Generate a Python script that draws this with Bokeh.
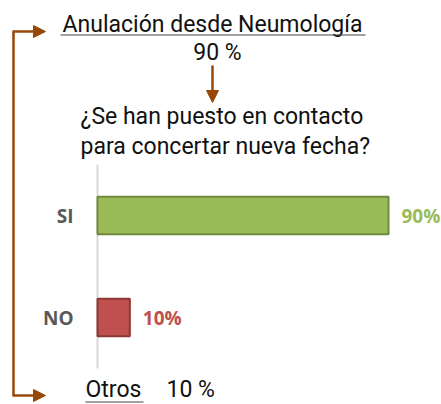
from bokeh.plotting import figure
from bokeh.models import Range1d, ColumnDataSource, Arrow, NormalHead
from bokeh.core.properties import value
from bokeh.embed import file_html
from bokeh.resources import INLINE

# ---- data ----
categories = ["SI", "NO"]
values = [90, 10]
bar_colors = ["#9BBB59", "#C0504D"]
bar_edges = ["#71893F", "#8C3836"]
title_text = "Anulación desde Neumología"
title_pct = "90 %"
question_lines = ["¿Se han puesto en contacto", "para concertar nueva fecha?"]
other_text = "Otros"
other_pct = "10 %"

W, H = 441, 404
BROWN = "#974806"

# pixel (reference picture coords) -> data coords helpers (frame == canvas)
X_PER_PX = 90 / 291.0
def xd(px):
    return (px - 97) * X_PER_PX
def yd(py):
    return (317 - py) / 102.0

p = figure(width=W, height=H, output_backend="svg", toolbar_location=None,
           x_range=Range1d(xd(0), xd(W)), y_range=Range1d(yd(H), yd(0)),
           x_axis_type=None, y_axis_type=None, min_border=0,
           outline_line_color=None, background_fill_color="white",
           border_fill_color="white")
p.grid.visible = False

ypos = [len(categories) - 1 - i for i in range(len(categories))]
src = ColumnDataSource(dict(y=ypos, v=values, cat=categories, fill=bar_colors,
                            edge=bar_edges, lab=[f"{v}%" for v in values]))

# axis line
p.segment(x0=0, y0=-0.5, x1=0, y1=len(categories) - 0.5, line_color="#D9D9D9", line_width=2)

p.hbar(y="y", left=0, right="v", height=0.37, fill_color="fill", line_color="edge",
       line_width=2, source=src)

p.text(x=0, y="y", text="cat", x_offset=-24, text_align="right", text_baseline="middle",
       text_font=value("Open Sans"), text_font_style="bold", text_font_size="19px",
       text_color="#595959", source=src)
p.text(x="v", y="y", text="lab", x_offset=13, text_align="left", text_baseline="middle",
       text_font=value("Open Sans"), text_font_style="bold", text_font_size="19px",
       text_color="fill", source=src)

FONT = "Roboto"
TEXT_DY = -8  # empirical correction of the rendered alphabetic baseline
def lab(x, y, t, align="left", size="23px"):
    p.text(x=[xd(x)], y=[yd(y + TEXT_DY)], text=[t], text_align=align, text_baseline="alphabetic",
           text_font=value(FONT), text_font_size=size, text_color="#111111")

lab(212, 32, title_text, "center")
p.segment(x0=xd(60), y0=yd(34.5), x1=xd(365), y1=yd(34.5), line_color="#444444", line_width=1.2)
lab(217, 60, title_pct, "center")
lab(80, 124, question_lines[0])
lab(80, 154, question_lines[1])
lab(85, 397, other_text)
p.segment(x0=xd(85), y0=yd(401.5), x1=xd(143), y1=yd(401.5), line_color="#444444", line_width=1.2)
lab(166, 397, other_pct)

# arrows
def arrow(x0, y0, x1, y1):
    p.add_layout(Arrow(x_start=xd(x0), y_start=yd(y0), x_end=xd(x1), y_end=yd(y1),
                       line_color=BROWN, line_width=2.5,
                       end=NormalHead(size=12, fill_color=BROWN, line_color=BROWN, line_width=1)))

arrow(212, 65, 212, 102)
p.segment(x0=xd(13), y0=yd(31), x1=xd(13), y1=yd(395), line_color=BROWN, line_width=2.5)
arrow(12, 31, 45, 31)
arrow(12, 395, 45, 395)

open("out.html", "w").write(file_html(p, INLINE))
